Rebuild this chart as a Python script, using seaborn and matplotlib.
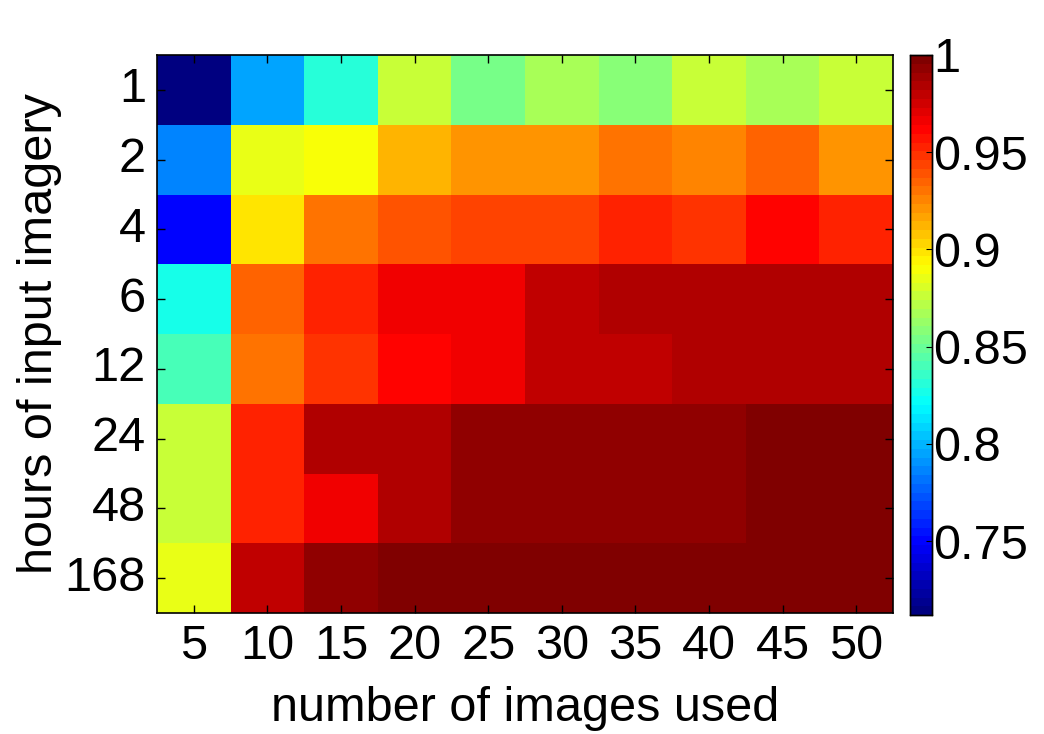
import seaborn as sns
import matplotlib.pyplot as plt
import pandas as pd
from matplotlib.colors import LinearSegmentedColormap

# Daten
hours = ['1', '2', '4', '6', '12', '24', '48', '168']
images = ['5', '10', '15', '20', '25', '30', '35', '40', '45', '50']

row_1 = [0.714, 0.793, 0.833, 0.878, 0.852, 0.865, 0.856, 0.874, 0.865, 0.874]
row_2 = [0.784, 0.883, 0.888, 0.910, 0.919, 0.919, 0.928, 0.924, 0.933, 0.919]
row_4 = [0.752, 0.897, 0.928, 0.937, 0.946, 0.946, 0.954, 0.950, 0.964, 0.954]
row_6 = [0.825, 0.933, 0.954, 0.968, 0.968, 0.978, 0.982, 0.986, 0.986, 0.982]
row_12 = [0.842, 0.928, 0.950, 0.964, 0.968, 0.978, 0.978, 0.982, 0.986, 0.986]
row_24 = [0.874, 0.954, 0.982, 0.986, 0.991, 0.995, 0.995, 0.995, 1.000, 1.000]
row_48 = [0.874, 0.954, 0.968, 0.986, 0.991, 0.995, 0.995, 0.995, 1.000, 1.000]
row_168 = [0.883, 0.978, 0.995, 1.000, 1.000, 1.000, 1.000, 1.000, 1.000, 1.000]

cbar_ticks = [0.75, 0.8, 0.85, 0.9, 0.95, 1]
cbar_labels = ['0.75', '0.8', '0.85', '0.9', '0.95', '1']

df = pd.DataFrame([row_1, row_2, row_4, row_6, row_12, row_24, row_48, row_168],
                  index=hours, columns=images)

# MATLAB-artige jet-Farbskala mit 64 Stufen
jet_matlab = LinearSegmentedColormap.from_list(
    'jet_matlab',
    [(0, (0, 0, 0.5)), (1 / 8, (0, 0, 1)), (3 / 8, (0, 1, 1)),
     (5 / 8, (1, 1, 0)), (7 / 8, (1, 0, 0)), (1, (0.5, 0, 0))], N=64)

plt.rcParams['font.family'] = ['Liberation Sans', 'DejaVu Sans']

fig = plt.figure(figsize=(10.44, 7.34), dpi=100)
ax = fig.add_axes([157 / 1044, 1 - 613 / 734, 736 / 1044, 558 / 734])
cax = fig.add_axes([910 / 1044, 1 - 615 / 734, 22 / 1044, 560 / 734])

sns.heatmap(df, ax=ax, cbar_ax=cax, cmap=jet_matlab,
            vmin=0.712, vmax=1.0, cbar_kws={'ticks': cbar_ticks})

for s in ax.spines.values():
    s.set_visible(True)
    s.set_linewidth(1.2)
ax.tick_params(direction='in', top=True, right=True, length=6, width=1,
               labelsize=35, pad=8)
ax.set_yticklabels(hours, rotation=0)
ax.set_xticklabels(images, rotation=0)
ax.set_xlabel('number of images used', fontsize=35, labelpad=12)
ax.set_ylabel('hours of input imagery', fontsize=35, labelpad=2)

cax.set_yticklabels(cbar_labels)
cax.tick_params(direction='in', length=4, labelsize=35, pad=1)
for s in cax.spines.values():
    s.set_visible(True)
    s.set_linewidth(1)

fig.savefig('out.png', dpi=100)
